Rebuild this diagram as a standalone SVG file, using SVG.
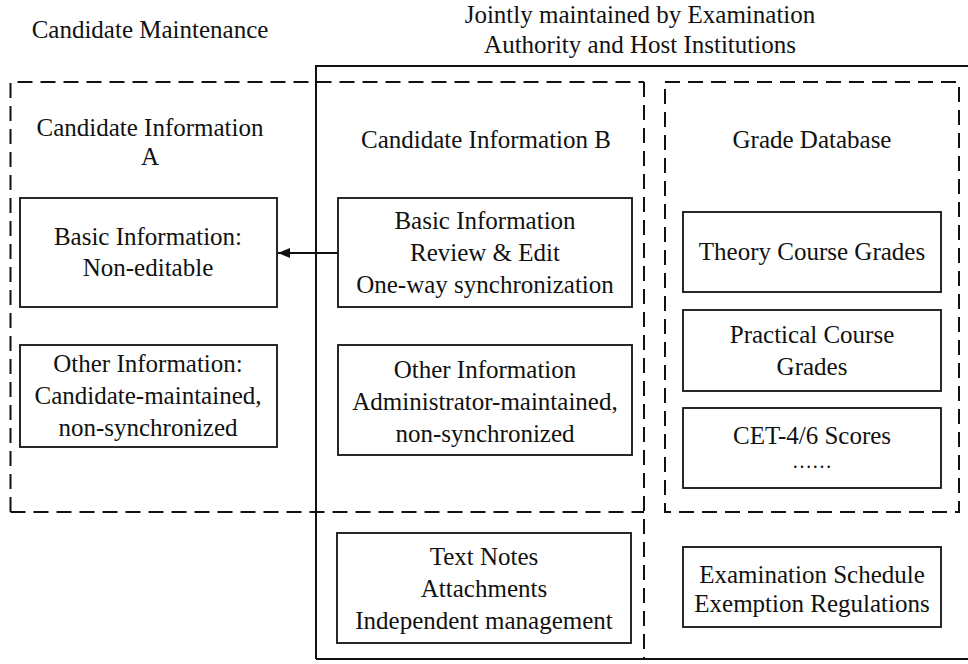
<svg xmlns="http://www.w3.org/2000/svg" width="968" height="664" viewBox="0 0 968 664">
<defs>
<style>
.box{fill:#fff;stroke:#111;stroke-width:1.8}
.dash{fill:none;stroke:#111;stroke-width:2;stroke-dasharray:15 8}
.solid{fill:none;stroke:#111;stroke-width:2}
.conn{stroke:#111;stroke-width:1.8;fill:none}
</style>
<marker id="arr" viewBox="0 0 12 10" refX="12" refY="5" markerWidth="12" markerHeight="10" markerUnits="userSpaceOnUse" orient="auto">
<path d="M0,0 L12,5 L0,10 z" fill="#111"/>
</marker>
</defs>
<rect width="968" height="664" fill="#fff"/>
<g font-family="'Liberation Serif', 'Times New Roman', serif" font-size="25" fill="#111" text-anchor="middle">
<g id="regions">
<path class="solid" d="M316,659 L316,66 L968,66 M316,659 L968,659"/>
<path class="dash" d="M10.5,512 L10.5,82 L644,82 M10.5,512 L644,512 M644,82 L644,659"/>
<rect class="dash" x="665" y="82" width="294" height="430"/>
<text x="150" y="38">Candidate Maintenance</text>
<text x="640" y="23">Jointly maintained by Examination</text>
<text x="640" y="53">Authority and Host Institutions</text>
<text x="150" y="136">Candidate Information</text>
<text x="150" y="165">A</text>
<text x="486" y="148">Candidate Information B</text>
<text x="812" y="148">Grade Database</text>
</g>
<g id="a-basic">
<rect class="box" x="20" y="198" width="257" height="109"/>
<text x="148" y="245">Basic Information:</text>
<text x="148" y="276">Non-editable</text>
</g>
<g id="a-other">
<rect class="box" x="20" y="345" width="257" height="102"/>
<text x="148" y="372">Other Information:</text>
<text x="148" y="404">Candidate-maintained,</text>
<text x="148" y="436">non-synchronized</text>
</g>
<g id="b-basic">
<rect class="box" x="338" y="198" width="294" height="109"/>
<text x="485" y="229">Basic Information</text>
<text x="485" y="261">Review &amp; Edit</text>
<text x="485" y="293">One-way synchronization</text>
</g>
<g id="b-other">
<rect class="box" x="338" y="345" width="294" height="110"/>
<text x="485" y="378">Other Information</text>
<text x="485" y="410">Administrator-maintained,</text>
<text x="485" y="442">non-synchronized</text>
</g>
<g id="notes">
<rect class="box" x="337" y="533" width="294" height="110"/>
<text x="484" y="565">Text Notes</text>
<text x="484" y="597">Attachments</text>
<text x="484" y="629">Independent management</text>
</g>
<g id="theory">
<rect class="box" x="683" y="212" width="258" height="80"/>
<text x="812" y="260">Theory Course Grades</text>
</g>
<g id="practical">
<rect class="box" x="683" y="310" width="258" height="81"/>
<text x="812" y="343">Practical Course</text>
<text x="812" y="375">Grades</text>
</g>
<g id="cet">
<rect class="box" x="683" y="408" width="258" height="80"/>
<text x="812" y="444">CET-4/6 Scores</text>
<text x="812" y="468" font-size="20">……</text>
</g>
<g id="schedule">
<rect class="box" x="683" y="547" width="258" height="80"/>
<text x="812" y="583">Examination Schedule</text>
<text x="812" y="612">Exemption Regulations</text>
</g>
</g>
<g id="connectors">
<line class="conn" x1="338" y1="253" x2="278" y2="253" marker-end="url(#arr)"/>
</g>
</svg>
